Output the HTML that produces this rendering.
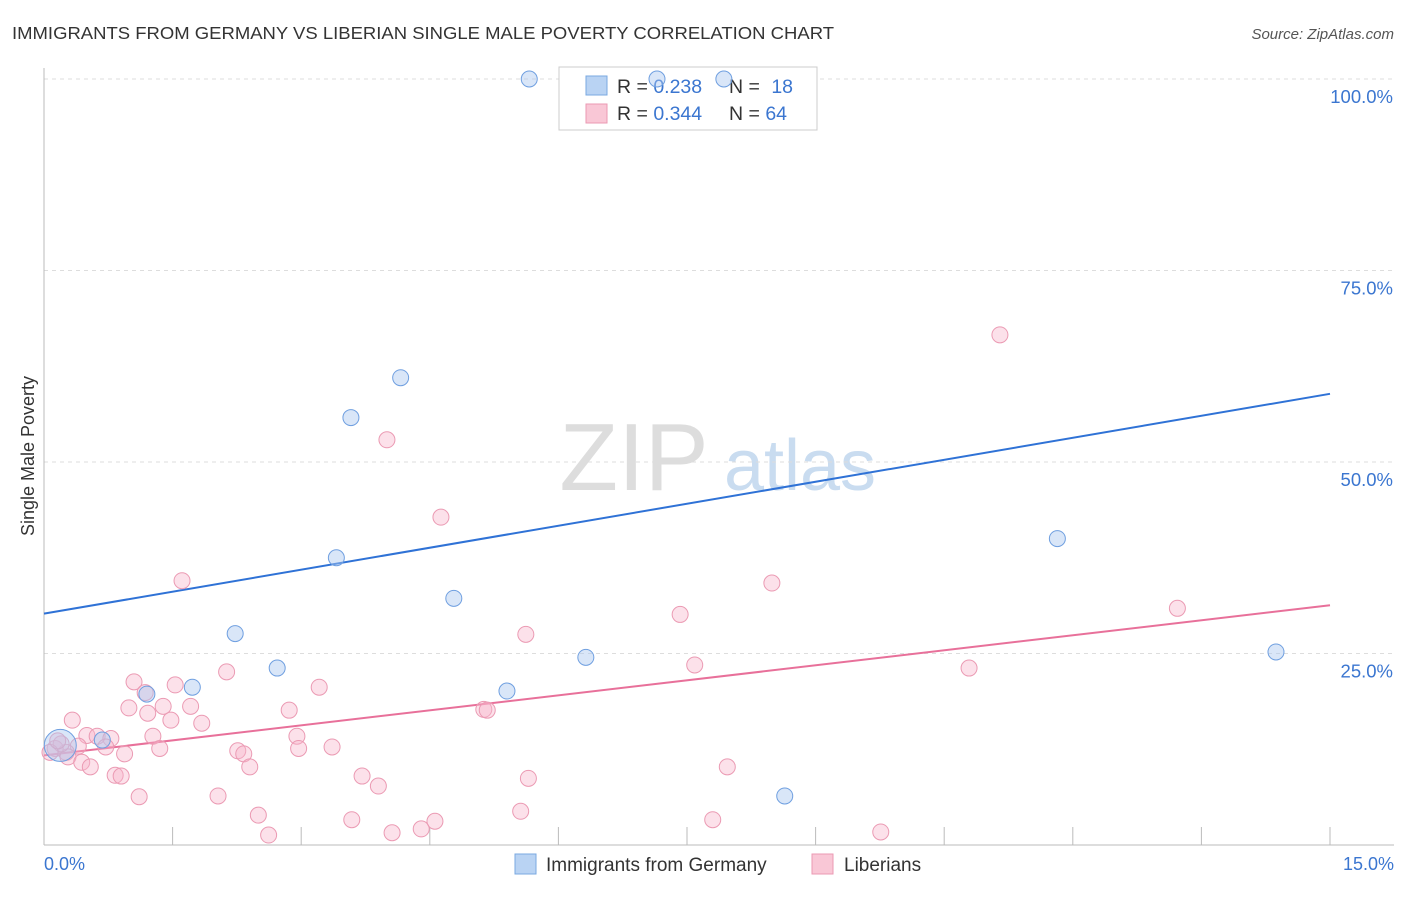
<!DOCTYPE html>
<html><head><meta charset="utf-8"><style>
body{margin:0;background:#fff;font-family:"Liberation Sans",sans-serif;}
svg text{font-family:"Liberation Sans",sans-serif;}
</style></head><body>
<svg id="chart" width="1406" height="892">
<text x="12" y="39" font-size="17.5" fill="#333" textLength="822" lengthAdjust="spacingAndGlyphs">IMMIGRANTS FROM GERMANY VS LIBERIAN SINGLE MALE POVERTY CORRELATION CHART</text>
<text x="1394" y="39" font-size="15" fill="#555" font-style="italic" text-anchor="end">Source: ZipAtlas.com</text>
<g>
<text x="634" y="490" font-size="96" fill="#ddd" font-family="Liberation Serif" text-anchor="middle">ZIP</text>
<text x="800" y="490" font-size="72" fill="#c9dcf0" text-anchor="middle">atlas</text>
</g>
<g id="grid"></g>
<g id="axes"></g>
<g>
<rect x="559" y="67" width="258" height="63" fill="#fff" stroke="#ccc"/>
<rect x="586" y="76" width="21" height="19" fill="#b9d3f3" stroke="#7aa8e0"/>
<rect x="586" y="104" width="21" height="19" fill="#f9c7d6" stroke="#eb9ab3"/>
<text x="617" y="93" font-size="19.5" fill="#333">R = <tspan fill="#3b76d0">0.238</tspan></text>
<text x="729" y="93" font-size="19.5" fill="#333">N = <tspan fill="#3b76d0" dx="6">18</tspan></text>
<text x="617" y="120" font-size="19.5" fill="#333">R = <tspan fill="#3b76d0">0.344</tspan></text>
<text x="729" y="120" font-size="19.5" fill="#333">N = <tspan fill="#3b76d0">64</tspan></text>
</g>
<g id="lines"></g>
<g id="points"></g>
<text x="0" y="0" font-size="18" fill="#333" transform="translate(34,456) rotate(-90)" text-anchor="middle">Single Male Poverty</text>
<text x="44" y="870" font-size="18" fill="#3b76d0">0.0%</text>
<text x="1394" y="870" font-size="18" fill="#3b76d0" text-anchor="end">15.0%</text>
<g>
<rect x="515" y="854" width="21" height="20" fill="#b9d3f3" stroke="#7aa8e0"/>
<text x="546" y="871" font-size="19" fill="#333">Immigrants from Germany</text>
<rect x="812" y="854" width="21" height="20" fill="#f9c7d6" stroke="#eb9ab3"/>
<text x="844" y="871" font-size="19" fill="#333">Liberians</text>
</g>
</svg>
<script>
const yTicks=[25,50,75,100];
const yTickLabels=["25.0%","50.0%","75.0%","100.0%"];
const xTicks=[0,1.5,3,4.5,6,7.5,9,10.5,12,13.5,15];
const germanyX=[5.66,7.15,7.93,4.16,3.58,3.41,4.78,2.23,2.72,1.73,1.20,5.40,6.32,11.82,14.37,8.64,0.19,0.68];
const germanyY=[100,100,100,61.0,55.8,37.5,32.2,27.6,23.1,20.6,19.7,20.1,24.5,40.0,25.2,6.4,13.0,13.7];
const liberianX=[11.15,4.0,4.63,1.61,8.49,13.22,7.42,5.62,7.59,10.79,2.13,1.05,1.53,3.21,1.18,0.99,1.39,1.71,1.21,2.86,5.13,5.17,1.48,1.84,0.33,0.5,0.62,0.78,1.27,2.95,0.40,0.72,1.35,2.97,3.36,2.26,2.33,0.94,0.26,0.13,0.28,0.44,0.54,2.40,7.97,0.83,0.90,3.71,3.90,5.65,1.11,2.03,2.50,3.59,4.56,5.56,7.80,2.62,4.06,4.40,9.76,0.2,0.07,0.16];
const liberianY=[66.6,52.9,42.8,34.5,34.2,30.9,30.1,27.5,23.5,23.1,22.6,21.3,20.9,20.6,19.9,17.9,18.1,18.1,17.2,17.6,17.7,17.6,16.3,15.9,16.3,14.3,14.2,13.9,14.2,14.2,12.9,12.8,12.6,12.6,12.8,12.3,11.9,11.9,12.1,12.6,11.5,10.8,10.2,10.2,10.2,9.1,9.0,9.0,7.7,8.7,6.3,6.4,3.9,3.3,3.1,4.4,3.3,1.3,1.6,2.1,1.7,13.2,12.1,13.6];
const germanyTrend=[30.2,58.9];
const liberianTrend=[11.7,31.3];
const NS="http://www.w3.org/2000/svg";
const sx=v=>44+v*(1330-44)/15;
const sy=v=>845-v*(845-79)/100;
function mk(tag,attrs,parent){const e=document.createElementNS(NS,tag);for(const k in attrs)e.setAttribute(k,attrs[k]);document.getElementById(parent).appendChild(e);return e;}
yTicks.forEach((t,i)=>{
 const l=mk('line',{x1:44,x2:1394,y1:sy(t),y2:sy(t),stroke:'#ddd','stroke-dasharray':'4,4'},'grid');
 
 
 const tx=mk('text',{x:1393,y:sy(t)+24,'font-size':18.5,fill:'#3b76d0','text-anchor':'end'},'grid');
 tx.textContent=yTickLabels[i];
 
 
});
const ax=mk('line',{x1:44,x2:44,y1:68,y2:845,stroke:'#bbb'},'axes');


const bx=mk('line',{x1:44,x2:1394,y1:845,y2:845,stroke:'#bbb'},'axes');


xTicks.forEach(t=>{
 const l=mk('line',{x1:sx(t),x2:sx(t),y1:827,y2:845,stroke:'#bbb'},'axes');
 
 
});
const tl1=mk('line',{x1:sx(0),x2:sx(15),y1:sy(germanyTrend[0]),y2:sy(germanyTrend[1]),stroke:'#2f72d6','stroke-width':2},'lines');


const tl2=mk('line',{x1:sx(0),x2:sx(15),y1:sy(liberianTrend[0]),y2:sy(liberianTrend[1]),stroke:'#e8709a','stroke-width':2},'lines');


liberianX.forEach((x,i)=>{
 const c=mk('circle',{cx:sx(x),cy:sy(liberianY[i]),r:8,fill:'rgba(248,180,202,0.4)',stroke:'#eb9ab3','stroke-width':1},'points');
 
 
});
germanyX.forEach((x,i)=>{
 const c=mk('circle',{cx:sx(x),cy:sy(germanyY[i]),r:i==16?16:8,fill:'rgba(170,200,240,0.45)',stroke:'#6f9fe0','stroke-width':1},'points');
 
 
});
</script>
</body></html>
